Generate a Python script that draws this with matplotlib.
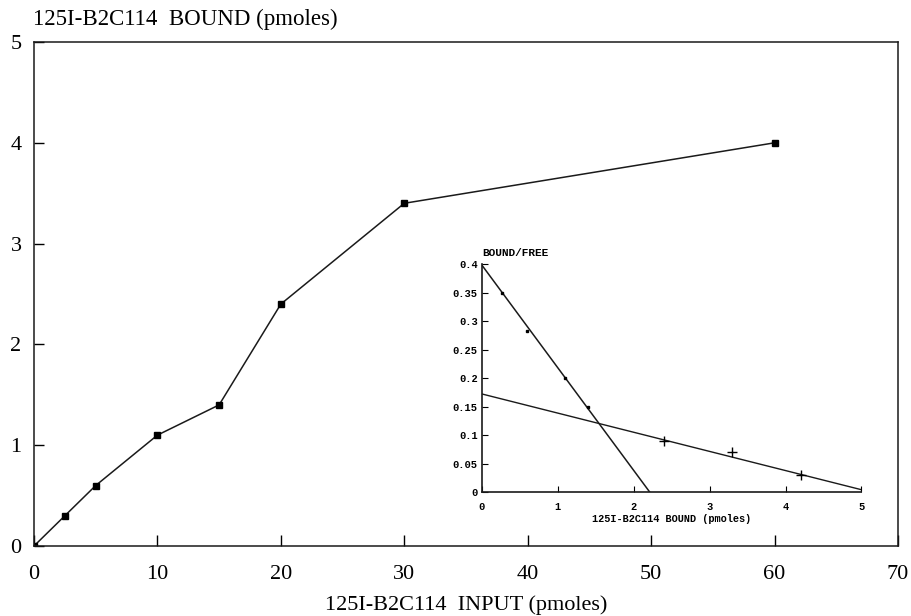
import matplotlib
matplotlib.use("Agg")
import matplotlib.pyplot as plt

# main saturation curve
input_pmol = [0, 2.5, 5, 10, 15, 20, 30, 60]
bound_pmol = [0, 0.3, 0.6, 1.1, 1.4, 2.4, 3.4, 4.0]

# Scatchard inset: high affinity points (dots) and low affinity points (crosses)
hi_bound = [0.27, 0.6, 1.1, 1.4]
hi_ratio = [0.35, 0.282, 0.2, 0.15]
lo_bound = [2.4, 3.3, 4.2]
lo_ratio = [0.09, 0.07, 0.03]
# fitted lines (end points)
hi_fit_x = [0, 2.21]
hi_fit_y = [0.398, 0]
lo_fit_x = [0, 5]
lo_fit_y = [0.172, 0.004]

serif = "Liberation Serif"
mono = "Liberation Mono"
ink = "#1a1a1a"

fig = plt.figure(figsize=(9.11, 6.16), dpi=100)
ax = fig.add_axes([0.0373, 0.1136, 0.9484, 0.8182])

ax.plot(input_pmol, bound_pmol, color=ink, lw=1.1, marker="s", ms=4.5,
        mfc="black", mec="black")
ax.set_xlim(0, 70)
ax.set_ylim(0, 5)
ax.set_xticks(range(0, 71, 10))
ax.set_yticks(range(0, 6))
ax.tick_params(axis="x", direction="in", length=8, width=1, pad=14, labelsize=16)
ax.tick_params(axis="y", direction="in", length=7, width=1, pad=9, labelsize=16)
for lab in ax.get_xticklabels() + ax.get_yticklabels():
    lab.set_fontfamily(serif)
for s in ax.spines.values():
    s.set_linewidth(1.1)
    s.set_color(ink)

fig.text(0.036, 0.969, "125I-B2C114  BOUND (pmoles)", family=serif,
         fontsize=16.5, ha="left", va="center")
fig.text(0.512, 0.017, "125I-B2C114  INPUT (pmoles)", family=serif,
         fontsize=16, ha="center", va="center")

# inset Scatchard plot
ins = fig.add_axes([0.529, 0.2013, 0.4166, 0.3701])
ins.plot(hi_fit_x, hi_fit_y, color=ink, lw=1.1)
ins.plot(lo_fit_x, lo_fit_y, color=ink, lw=1.0)
ins.plot(hi_bound, hi_ratio, ls="none", marker="s", ms=2, color="black")
ins.plot(lo_bound, lo_ratio, ls="none", marker="+", ms=7, mew=1, color="black")
ins.set_xlim(0, 5)
ins.set_ylim(0, 0.4)
ins.set_xticks(range(0, 6))
ins.set_yticks([0, 0.05, 0.1, 0.15, 0.2, 0.25, 0.3, 0.35, 0.4])
ins.set_yticklabels(["0", "0.05", "0.1", "0.15", "0.2", "0.25", "0.3", "0.35", "0.4"])
ins.spines["top"].set_visible(False)
ins.spines["right"].set_visible(False)
for s in ("left", "bottom"):
    ins.spines[s].set_linewidth(1.2)
    ins.spines[s].set_color(ink)
ins.tick_params(axis="x", direction="in", length=4, pad=7, labelsize=7.5)
ins.tick_params(axis="y", direction="in", length=4, pad=3, labelsize=7.5)
for lab in ins.get_xticklabels() + ins.get_yticklabels():
    lab.set_fontfamily(mono)
    lab.set_fontweight("bold")
ins.set_xlabel("125I-B2C114 BOUND (pmoles)", family=mono, fontweight="bold",
               fontsize=7.4, labelpad=2)
ins.text(0.0, 1.025, "BOUND/FREE", transform=ins.transAxes, family=mono,
         fontweight="bold", fontsize=8, ha="left", va="bottom")

fig.savefig("out.png", dpi=100)
